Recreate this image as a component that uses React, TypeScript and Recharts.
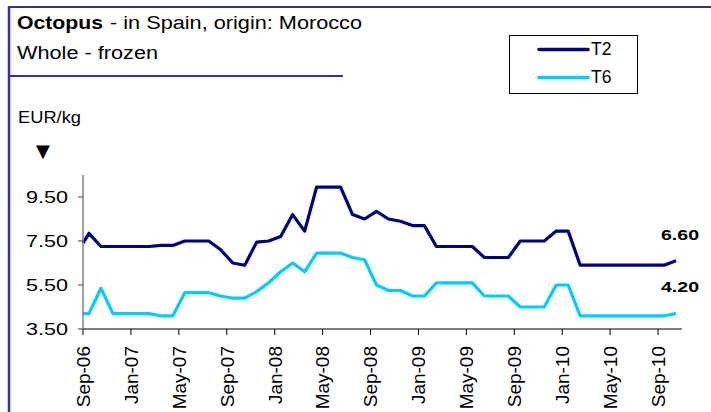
import React from 'react';
import { LineChart, Line, XAxis, YAxis, LabelList } from 'recharts';

const tickLabels = ['Sep-06', 'Jan-07', 'May-07', 'Sep-07', 'Jan-08', 'May-08', 'Sep-08', 'Jan-09', 'May-09', 'Sep-09', 'Jan-10', 'May-10', 'Sep-10'];
const tickMonths = [0, 4, 8, 12, 16, 20, 24, 28, 32, 36, 40, 44, 48];
const yTicks = [3.5, 5.5, 7.5, 9.5];

// first value = opening point at the axis origin, then one value per month Sep-06 .. Oct-10
const t2 = [7.4, 7.85, 7.25, 7.25, 7.25, 7.25, 7.25, 7.3, 7.3, 7.5, 7.5, 7.5, 7.1, 6.5, 6.4, 7.45, 7.5, 7.7, 8.7, 7.95, 9.95, 9.95, 9.95, 8.7, 8.5, 8.85, 8.5, 8.4, 8.2, 8.2, 7.25, 7.25, 7.25, 7.25, 6.75, 6.75, 6.75, 7.5, 7.5, 7.5, 7.95, 7.95, 6.4, 6.4, 6.4, 6.4, 6.4, 6.4, 6.4, 6.4, 6.6];
const t6 = [4.2, 4.2, 5.35, 4.2, 4.2, 4.2, 4.2, 4.1, 4.1, 5.15, 5.15, 5.15, 5.0, 4.9, 4.9, 5.2, 5.6, 6.1, 6.5, 6.1, 6.95, 6.95, 6.95, 6.75, 6.65, 5.5, 5.25, 5.25, 5.0, 5.0, 5.6, 5.6, 5.6, 5.6, 5.0, 5.0, 5.0, 4.5, 4.5, 4.5, 5.5, 5.5, 4.1, 4.1, 4.1, 4.1, 4.1, 4.1, 4.1, 4.1, 4.2];

const data = t2.map((v, i) => ({ x: i === 0 ? 0 : i - 0.5, t2: v, t6: t6[i] }));

const FONT = '"Liberation Sans", Arial, sans-serif';
const DARK = '#000080';
const LIGHT = '#00CCFF';
const FRAME = '#333399';

const XTick = (props: any) => {
  const { x, y, payload } = props;
  const idx = tickMonths.indexOf(payload.value);
  const yy = y + 9;
  return (
    <text x={x} y={yy} transform={`rotate(-90 ${x} ${yy})`} textAnchor="end" dy="0.36em" fontSize={19} fill="#000" fontFamily={FONT}>
      {tickLabels[idx]}
    </text>
  );
};

const YTick = (props: any) => {
  const { x, y, payload } = props;
  return (
    <text x={x} y={y} dy="0.36em" textAnchor="end" fontSize={17} fill="#000" fontFamily={FONT} textLength={42} lengthAdjust="spacingAndGlyphs">
      {Number(payload.value).toFixed(2)}
    </text>
  );
};

const endLabel = (dyOff: number) => (props: any) => {
  const { x, y, value, index } = props;
  if (index !== data.length - 1) return null;
  return (
    <text x={x - 15} y={y - dyOff} fontSize={14} fontWeight="bold" fill="#000" fontFamily={FONT} textLength={38} lengthAdjust="spacingAndGlyphs">
      {Number(value).toFixed(2)}
    </text>
  );
};

export default function App() {
  return (
    <div style={{ position: 'absolute', left: 0, top: 0, width: 711, height: 412, background: '#fff', fontFamily: FONT }}>
      <LineChart width={711} height={412} data={data} margin={{ top: 175, right: 29, bottom: 0, left: 0 }}>
        <XAxis
          dataKey="x"
          type="number"
          domain={[0, 50]}
          ticks={tickMonths}
          interval={0}
          height={83}
          tick={<XTick />}
          tickSize={6}
          axisLine={{ stroke: '#000', strokeWidth: 1.2 }}
          tickLine={{ stroke: '#000' }}
        />
        <YAxis
          type="number"
          domain={[3.5, 10.5]}
          ticks={yTicks}
          width={83}
          tick={<YTick />}
          tickSize={5}
          tickMargin={10}
          axisLine={{ stroke: '#808080', strokeWidth: 1.5 }}
          tickLine={{ stroke: '#404040' }}
        />
        <Line type="linear" dataKey="t2" name="T2" stroke={DARK} strokeWidth={3.2} dot={false} isAnimationActive={false} strokeLinejoin="round">
          <LabelList dataKey="t2" content={endLabel(21)} />
        </Line>
        <Line type="linear" dataKey="t6" name="T6" stroke={LIGHT} strokeWidth={3.2} dot={false} isAnimationActive={false} strokeLinejoin="round">
          <LabelList dataKey="t6" content={endLabel(22)} />
        </Line>
      </LineChart>
      <svg width={711} height={412} style={{ position: 'absolute', left: 0, top: 0, pointerEvents: 'none' }}>
        <line x1={9} y1={6} x2={9} y2={412} stroke={FRAME} strokeWidth={2.5} />
        <line x1={8} y1={7} x2={711} y2={7} stroke={FRAME} strokeWidth={2} />
        <line x1={8} y1={76} x2={343} y2={76} stroke={FRAME} strokeWidth={2} />
        <text x={17} y={29} fontSize={18} fontWeight="bold" fill="#000" fontFamily={FONT} textLength={86} lengthAdjust="spacingAndGlyphs">Octopus</text>
        <text x={110} y={29} fontSize={18} fill="#000" fontFamily={FONT} textLength={252} lengthAdjust="spacingAndGlyphs">- in Spain, origin: Morocco</text>
        <text x={17} y={59} fontSize={18} fill="#000" fontFamily={FONT} textLength={141} lengthAdjust="spacingAndGlyphs">Whole - frozen</text>
        <text x={18} y={123} fontSize={16} fill="#000" fontFamily={FONT} textLength={63} lengthAdjust="spacingAndGlyphs">EUR/kg</text>
        <text x={43} y={157} fontSize={18} fill="#000" textAnchor="middle" fontFamily='"DejaVu Sans", sans-serif'>▼</text>
        <rect x={509.5} y={35.5} width={128} height={58} fill="#fff" stroke="#000" strokeWidth={1} />
        <line x1={539} y1={49.5} x2={588} y2={49.5} stroke={DARK} strokeWidth={3.5} strokeLinecap="round" />
        <line x1={539} y1={77.5} x2={588} y2={77.5} stroke={LIGHT} strokeWidth={3.5} strokeLinecap="round" />
        <text x={591} y={55} fontSize={17.5} fill="#000" fontFamily={FONT}>T2</text>
        <text x={591} y={83} fontSize={17.5} fill="#000" fontFamily={FONT}>T6</text>
      </svg>
    </div>
  );
}
